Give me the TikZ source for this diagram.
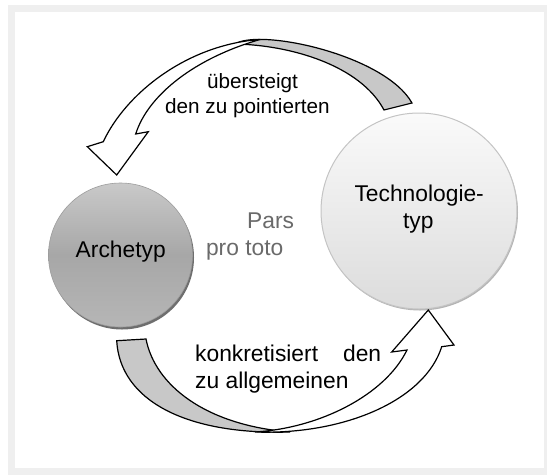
\documentclass[tikz,border=0pt]{standalone}
\usepackage{fontspec}
\setmainfont{Liberation Sans}
\definecolor{framegray}{HTML}{EFEFEF}
\definecolor{bandgray}{HTML}{C8C8C8}
\definecolor{archtop}{HTML}{C9C9C9}
\definecolor{archmid}{HTML}{A7A7A7}
\definecolor{archbot}{HTML}{B6B6B6}
\definecolor{archshadow}{HTML}{6E6E6E}
\definecolor{archrim}{HTML}{9C9C9C}
\definecolor{techtop}{HTML}{FAFAFA}
\definecolor{techbot}{HTML}{DCDCDC}
\definecolor{techrim}{HTML}{C4C4C4}
\definecolor{techshadow}{HTML}{B4B4B4}
\definecolor{parsgray}{HTML}{6A6A6A}
\newcommand\lblbig{\fontsize{22.8}{27}\selectfont}
\newcommand\lblsmall{\fontsize{20.7}{25}\selectfont}
\begin{document}
\begin{tikzpicture}[x=1pt,y=-1pt,
  backband/.style={fill=bandgray,draw=black,line width=1.2pt,line join=miter},
  frontband/.style={fill=white,draw=black,line width=1.2pt,line join=miter},
  biglabel/.style={font=\lblbig,text=black,inner sep=0pt,anchor=base},
  smalllabel/.style={font=\lblsmall,text=black,inner sep=0pt,anchor=base},
  graylabel/.style={font=\lblbig,text=parsgray,inner sep=0pt,anchor=base west}]
\useasboundingbox (0,0) rectangle (547,475);
% frame
\fill[white] (0,0) rectangle (547,475);
\fill[framegray] (8,5) rectangle (547,475);
\fill[white] (15,12) rectangle (544,468);

% circles
\fill[archshadow] (122,257.5) circle (72pt);
\node[circle,minimum size=144pt,inner sep=0pt,draw=archrim,line width=0.6pt,
      top color=archtop,bottom color=archbot,middle color=archmid] (arch) at (120.5,255) {};
\fill[techshadow] (420,212.5) circle (98pt);
\node[circle,minimum size=196pt,inner sep=0pt,draw=techrim,line width=1pt,
      top color=techtop,bottom color=techbot] (tech) at (419,211) {};

% top curved arrow (back part, gray)
\filldraw[backband] (235,44) .. controls (260,28) and (385,55) .. (412,103)
   -- (384,110) .. controls (360,65) and (290,45) .. (235,44) -- cycle;
% top curved arrow (front part, white)
\filldraw[frontband] (260.4,39.4) .. controls (185,45) and (125,95) .. (103.3,141.7)
   -- (87.3,146.7) -- (116.7,175) -- (148.3,131.7) -- (135.7,134)
   .. controls (148,95) and (195,58) .. (260.4,39.4) -- cycle;

% bottom curved arrow (back part, gray)
\filldraw[backband] (116.7,340.7) -- (146,339) .. controls (155,385) and (205,425) .. (290,432)
   .. controls (185,435) and (120,400) .. (116.7,340.7) -- cycle;
% bottom curved arrow (front part, white)
\filldraw[frontband] (255,432) .. controls (345,435) and (425,400) .. (441.7,346.7)
   -- (454,345) -- (428.3,310) -- (391.7,352) -- (407,350)
   .. controls (385,395) and (320,428) .. (255,432) -- cycle;

% labels
\node[biglabel] (archlbl) at (120.7,257) {Archetyp};
\node[biglabel] (techlbl1) at (419.2,201.7) {Technologie-};
\node[biglabel] (techlbl2) at (418.3,228) {typ};
\node[graylabel] (pars1) at (247,228) {Pars};
\node[graylabel] (pars2) at (205.8,255) {pro toto};
\node[smalllabel] (top1) at (252.5,88.3) {übersteigt};
\node[smalllabel] (top2) at (247.5,113.3) {den zu pointierten};
\node[biglabel,anchor=base west] (bot1) at (195,361) {konkretisiert\hspace{25pt}den};
\node[biglabel,anchor=base west] (bot2) at (195,388.3) {zu allgemeinen};
\end{tikzpicture}
\end{document}
